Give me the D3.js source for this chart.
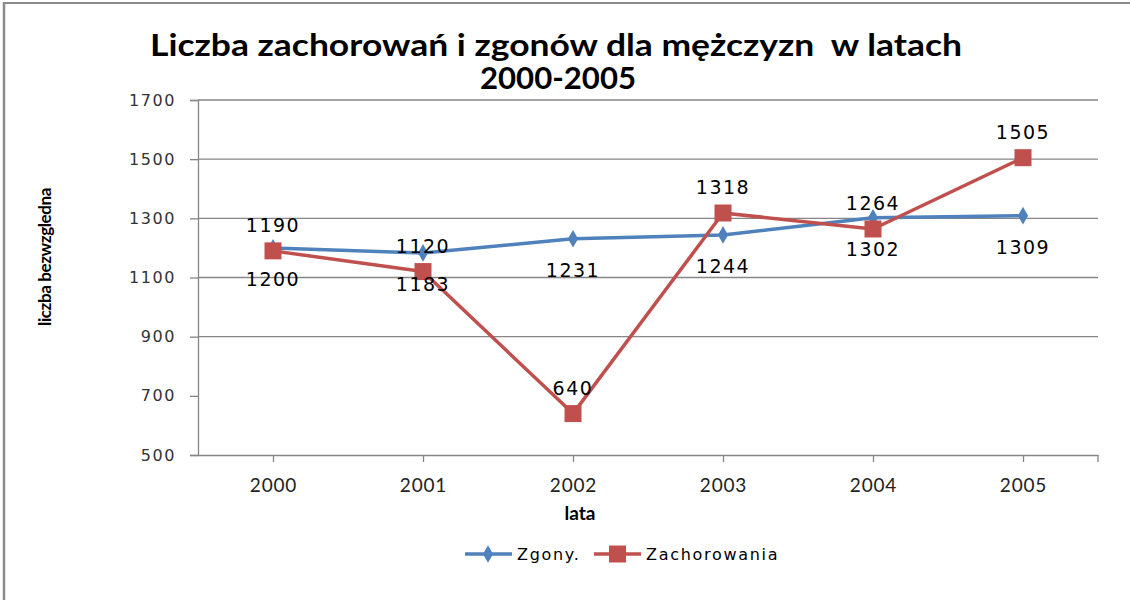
<!DOCTYPE html>
<html>
<head>
<meta charset="utf-8">
<script src="https://cdn.jsdelivr.net/npm/d3@7"></script>
<style>
  html, body { margin: 0; padding: 0; background: #fff; }
  svg { display: block; }
</style>
</head>
<body>
<svg id="chart" width="1130" height="600"></svg>
<script>
const titleLines = ["Liczba zachorowań i zgonów dla mężczyzn  w latach", "2000-2005"];
const categories = ["2000", "2001", "2002", "2003", "2004", "2005"];
const zgony = [1200, 1183, 1231, 1244, 1302, 1309];
const zachorowania = [1190, 1120, 640, 1318, 1264, 1505];
const yTicks = [500, 700, 900, 1100, 1300, 1500, 1700];
const gridValues = [900, 1100, 1300, 1500, 1700];
const seriesNames = ["Zgony.", "Zachorowania"];
const yLabel = "liczba bezwzgledna";
const xLabel = "lata";

(function () {
const blue = "#4F81BD", red = "#C0504D", axisGray = "#868686";
const svg = d3.select("#chart");

// outer frame (left + top)
svg.append("line").attr("x1", 4).attr("x2", 4).attr("y1", 2).attr("y2", 600)
  .attr("stroke", "#8c8c8c").attr("stroke-width", 2.5);
svg.append("line").attr("x1", 4).attr("x2", 1130).attr("y1", 3).attr("y2", 3)
  .attr("stroke", "#8c8c8c").attr("stroke-width", 2);

const pLeft = 198, pRight = 1098, pTop = 100, pBottom = 455;
const x = d3.scalePoint().domain(categories).range([pLeft, pRight]).padding(0.5);
const y = d3.scaleLinear().domain([500, 1700]).range([pBottom, pTop]);

// title
const title = svg.append("text").attr("text-anchor", "middle")
  .attr("font-family", "Lato, 'Open Sans', sans-serif")
  .attr("font-weight", "bold").attr("font-size", 30).attr("fill", "#000")
  .style("white-space", "pre").attr("xml:space", "preserve");
title.append("tspan").attr("x", 556).attr("y", 56)
  .attr("textLength", 812).attr("lengthAdjust", "spacingAndGlyphs").text(titleLines[0]);
title.append("tspan").attr("x", 558).attr("y", 89)
  .attr("textLength", 156).attr("lengthAdjust", "spacingAndGlyphs").text(titleLines[1]);

// gridlines
svg.append("g").selectAll("line").data(gridValues).join("line")
  .attr("x1", pLeft).attr("x2", pRight)
  .attr("y1", d => y(d)).attr("y2", d => y(d))
  .attr("stroke", axisGray).attr("stroke-width", 1.3);

// y axis
const yAxis = svg.append("g").attr("transform", `translate(${pLeft},0)`)
  .call(d3.axisLeft(y).tickValues(yTicks).tickSize(8).tickPadding(14).tickFormat(d3.format("d")));
yAxis.select(".domain").attr("stroke", axisGray).attr("stroke-width", 1.3);
yAxis.selectAll(".tick line").attr("stroke", axisGray).attr("stroke-width", 1.3);
yAxis.selectAll(".tick text").attr("font-family", "'DejaVu Sans', Verdana, sans-serif")
  .attr("font-size", 16).attr("letter-spacing", 1.6).attr("fill", "#333");

// x axis
const xAxis = svg.append("g").attr("transform", `translate(0,${pBottom})`)
  .call(d3.axisBottom(x).tickSize(7).tickSizeOuter(0).tickPadding(17));
xAxis.select(".domain").attr("stroke", axisGray).attr("stroke-width", 1.3);
xAxis.selectAll(".tick line").attr("stroke", axisGray).attr("stroke-width", 1.3);
xAxis.selectAll(".tick text").attr("font-family", "Lato, 'Open Sans', sans-serif")
  .attr("font-size", 19).attr("letter-spacing", 0.8).attr("fill", "#222");
svg.append("line").attr("x1", pRight).attr("x2", pRight).attr("y1", pBottom).attr("y2", pBottom + 7)
  .attr("stroke", axisGray).attr("stroke-width", 1.3);

// axis titles
svg.append("text").attr("x", 580).attr("y", 520).attr("text-anchor", "middle")
  .attr("font-family", "Lato, 'Open Sans', sans-serif").attr("font-weight", "bold")
  .attr("font-size", 19).text(xLabel);
svg.append("text").attr("transform", "translate(51,257) rotate(-90)").attr("text-anchor", "middle")
  .attr("font-family", "Lato, sans-serif").attr("font-weight", "bold")
  .attr("font-size", 17).attr("letter-spacing", -0.4).text(yLabel);

// lines
const line = d3.line().x((d, i) => x(categories[i])).y(d => y(d));
svg.append("path").datum(zgony).attr("d", line).attr("fill", "none")
  .attr("stroke", blue).attr("stroke-width", 3.5).attr("stroke-linejoin", "round");
svg.append("path").datum(zachorowania).attr("d", line).attr("fill", "none")
  .attr("stroke", red).attr("stroke-width", 3.5).attr("stroke-linejoin", "round");

// markers
const diamond = d3.symbol().type(d3.symbolDiamond).size(90);
svg.append("g").selectAll("path").data(zgony).join("path")
  .attr("d", diamond)
  .attr("transform", (d, i) => `translate(${x(categories[i])},${y(d)})`)
  .attr("fill", blue);
svg.append("g").selectAll("rect").data(zachorowania).join("rect")
  .attr("x", (d, i) => x(categories[i]) - 8.5).attr("y", d => y(d) - 8.5)
  .attr("width", 17).attr("height", 17).attr("fill", red);

// data labels
const labelFont = "'DejaVu Sans', Verdana, sans-serif";
svg.append("g").selectAll("text").data(zachorowania).join("text")
  .attr("x", (d, i) => x(categories[i])).attr("y", d => y(d) - 19)
  .attr("text-anchor", "middle").attr("font-family", labelFont).attr("font-size", 19)
  .attr("letter-spacing", 1.5).attr("fill", "#000").text(d => d);
svg.append("g").selectAll("text").data(zgony).join("text")
  .attr("x", (d, i) => x(categories[i])).attr("y", d => y(d) + 38)
  .attr("text-anchor", "middle").attr("font-family", labelFont).attr("font-size", 19)
  .attr("letter-spacing", 1.5).attr("fill", "#000").text(d => d);

// legend
const lg = svg.append("g").attr("transform", "translate(0,554)");
lg.append("line").attr("x1", 465).attr("x2", 512).attr("stroke", blue).attr("stroke-width", 3.5);
lg.append("path").attr("d", diamond).attr("transform", "translate(488,0)").attr("fill", blue);
lg.append("text").attr("x", 517).attr("y", 6).attr("font-family", labelFont).attr("font-size", 16)
  .attr("letter-spacing", 1.7).text(seriesNames[0]);
lg.append("line").attr("x1", 594).attr("x2", 641).attr("stroke", red).attr("stroke-width", 3.5);
lg.append("rect").attr("x", 609).attr("y", -8.5).attr("width", 17).attr("height", 17).attr("fill", red);
lg.append("text").attr("x", 646).attr("y", 6).attr("font-family", labelFont).attr("font-size", 16)
  .attr("letter-spacing", 1.7).text(seriesNames[1]);
})();
</script>
</body>
</html>
